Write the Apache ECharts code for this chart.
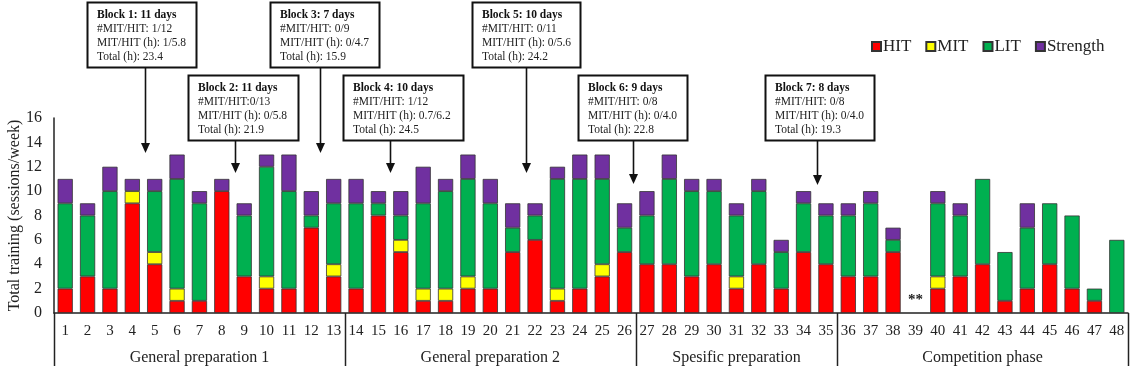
<!DOCTYPE html>
<html>
<head>
<meta charset="utf-8">
<script src="https://cdn.jsdelivr.net/npm/echarts@6/dist/echarts.min.js"></script>
<style>
html,body{margin:0;padding:0;background:#fff;}
#c{width:1130px;height:383px;}
</style>
</head>
<body>
<div id="c"></div>
<script>
// ---- data ----
const weeks = ['1','2','3','4','5','6','7','8','9','10','11','12','13','14','15','16','17','18','19','20','21','22','23','24','25','26','27','28','29','30','31','32','33','34','35','36','37','38','39','40','41','42','43','44','45','46','47','48'];
const hit      = [2,3,2,9,4,1,1,10,3,2,2,7,3, 2,8,5,1,1,2,2,5,6,1,2,3,5, 4,4,3,4,2,4,2,5,4, 3,3,5,0,2,3,4,1,2,4,2,1,0];
const mit      = [0,0,0,1,1,1,0,0,0,1,0,0,1, 0,0,1,1,1,1,0,0,0,1,0,1,0, 0,0,0,0,1,0,0,0,0, 0,0,0,0,1,0,0,0,0,0,0,0,0];
const lit      = [7,5,8,0,5,9,8,0,5,9,8,1,5, 7,1,2,7,8,8,7,2,2,9,9,7,2, 4,7,7,6,5,6,3,4,4, 5,6,1,0,6,5,7,4,5,5,6,1,6];
const strength = [2,1,2,1,1,2,1,1,1,1,3,2,2, 2,1,2,3,1,2,2,2,1,1,2,2,2, 2,2,1,1,1,1,1,1,1, 1,1,1,0,1,1,0,0,2,0,0,0,0];
const seriesNames = ['HIT','MIT','LIT','Strength'];
const seriesColors = ['#ff0000','#ffff00','#00b050','#7030a0'];
const yTicks = [0,2,4,6,8,10,12,14,16];
const yTitle = 'Total training (sessions/week)';
const phases = [
  {name:'General preparation 1', start:0, end:13},
  {name:'General preparation 2', start:13, end:26},
  {name:'Spesific preparation', start:26, end:35},
  {name:'Competition phase', start:35, end:48}
];
const blocks = [
  {title:'Block 1: 11 days', l2:'#MIT/HIT: 1/12',  l3:'MIT/HIT (h): 1/5.8',   l4:'Total (h): 23.4', at:3.58},
  {title:'Block 2: 11 days', l2:'#MIT/HIT:0/13',   l3:'MIT/HIT (h): 0/5.8',   l4:'Total (h): 21.9', at:7.6},
  {title:'Block 3: 7 days',  l2:'#MIT/HIT: 0/9',   l3:'MIT/HIT (h): 0/4.7',   l4:'Total (h): 15.9', at:11.39},
  {title:'Block 4: 10 days', l2:'#MIT/HIT: 1/12',  l3:'MIT/HIT (h): 0.7/6.2', l4:'Total (h): 24.5', at:14.52},
  {title:'Block 5: 10 days', l2:'#MIT/HIT: 0/11',  l3:'MIT/HIT (h): 0/5.6',   l4:'Total (h): 24.2', at:20.6},
  {title:'Block 6: 9 days',  l2:'#MIT/HIT: 0/8',   l3:'MIT/HIT (h): 0/4.0',   l4:'Total (h): 22.8', at:25.38},
  {title:'Block 7: 8 days',  l2:'#MIT/HIT: 0/8',   l3:'MIT/HIT (h): 0/4.0',   l4:'Total (h): 19.3', at:33.6}
];
// box layout (pixels)
const boxLayout = [
  {x:87,  y:2,  w:109, h:65, tip:153},
  {x:188, y:75, w:110, h:65, tip:173},
  {x:270, y:2,  w:109, h:65, tip:153},
  {x:343, y:75, w:120, h:65, tip:173},
  {x:472, y:2,  w:108, h:65, tip:173},
  {x:578, y:75, w:109, h:65, tip:184},
  {x:765, y:75, w:109, h:65, tip:185}
];
const noDataWeek = 38; // index of week 39
const FONT = '"Liberation Serif","Times New Roman",serif';

const allData = [hit, mit, lit, strength];
const chart = echarts.init(document.getElementById('c'));
chart.setOption({
  animation:false,
  backgroundColor:'#fff',
  textStyle:{fontFamily:FONT},
  grid:{left:54, right:2, top:118, bottom:70, containLabel:false, outerBoundsMode:'none'},
  legend:{
    left:866, top:33, itemWidth:9, itemHeight:9, itemGap:14,
    icon:'rect',
    textStyle:{fontFamily:FONT, fontSize:17, color:'#222', padding:[0,0,0,-3]},
    data:seriesNames
  },
  xAxis:{
    type:'category', data:weeks, boundaryGap:true,
    axisLine:{lineStyle:{color:'#222', width:1.5}},
    axisTick:{show:false},
    axisLabel:{fontFamily:FONT, fontSize:15, color:'#222', margin:11, interval:0}
  },
  yAxis:{
    type:'value', min:0, max:16, interval:2,
    axisLine:{show:true, lineStyle:{color:'#222', width:1.5}},
    axisTick:{show:false},
    splitLine:{show:false},
    axisLabel:{fontFamily:FONT, fontSize:16, color:'#222', margin:12,
      formatter:v=>yTicks.indexOf(v)>=0?String(v):''}
  },
  series: seriesNames.map((n,k)=>({
    name:n, type:'bar', stack:'total', barWidth:'68%',
    itemStyle:{color:seriesColors[k], borderColor:'#333', borderWidth:0.8},
    data: allData[k].map(v=>v===0?'-':v)
  }))
});

function buildGraphics(){
  const c0 = chart.convertToPixel({xAxisIndex:0}, 0);
  const c1 = chart.convertToPixel({xAxisIndex:0}, 1);
  const step = c1 - c0;
  const y0 = chart.convertToPixel({yAxisIndex:0}, 0);
  const yTop = chart.convertToPixel({yAxisIndex:0}, 16);
  const fx = f => c0 + f*step;           // f = fractional category index
  const edge = i => c0 + (i - 0.5)*step;  // boundary before category i
  const g = [];
  // y-axis title
  g.push({type:'text', x:15, y:(y0+yTop)/2, rotation:Math.PI/2,
    style:{text:yTitle, font:'16px '+FONT, fill:'#222', align:'center', verticalAlign:'middle'}, z:10});
  const bounds = [0,13,26,35,48];
  bounds.forEach(b=>{
    const x = Math.round(edge(b))+0.5;
    g.push({type:'line', shape:{x1:x,y1:y0,x2:x,y2:y0+53}, style:{stroke:'#222', lineWidth:1.5}, z:10});
  });
  phases.forEach(p=>{
    g.push({type:'text', x:(edge(p.start)+edge(p.end))/2, y:y0+45,
      style:{text:p.name, font:'16px '+FONT, fill:'#222', align:'center', verticalAlign:'middle'}, z:10});
  });
  const p39 = chart.convertToPixel({xAxisIndex:0, yAxisIndex:0}, [noDataWeek, 0]);
  g.push({type:'text', x:p39[0], y:p39[1]-13,
    style:{text:'**', font:'bold 15px '+FONT, fill:'#222', align:'center', verticalAlign:'middle'}, z:10});
  blocks.forEach((b,i)=>{
    const L = boxLayout[i];
    g.push({type:'rect', shape:{x:L.x+0.5, y:L.y+0.5, width:L.w, height:L.h},
      style:{fill:'#fff', stroke:'#111', lineWidth:2}, z:20});
    g.push({type:'text', x:L.x+10, y:L.y+6,
      style:{
        text:'{b|'+b.title+'}\n{n|'+b.l2+'}\n{n|'+b.l3+'}\n{n|'+b.l4+'}',
        rich:{
          b:{font:'bold 11.5px '+FONT, fill:'#111', lineHeight:14},
          n:{font:'11.5px '+FONT, fill:'#222', lineHeight:14}
        },
        verticalAlign:'top', align:'left'
      }, z:21});
    const ax = Math.round(fx(b.at))+0.5;
    g.push({type:'line', shape:{x1:ax, y1:L.y+L.h+1, x2:ax, y2:L.tip-8},
      style:{stroke:'#111', lineWidth:1.6}, z:20});
    g.push({type:'polygon', shape:{points:[[ax-4.5,L.tip-10],[ax+4.5,L.tip-10],[ax,L.tip]]},
      style:{fill:'#111'}, z:20});
  });
  chart.setOption({graphic:{elements:g}});
}
buildGraphics();
</script>
</body>
</html>
